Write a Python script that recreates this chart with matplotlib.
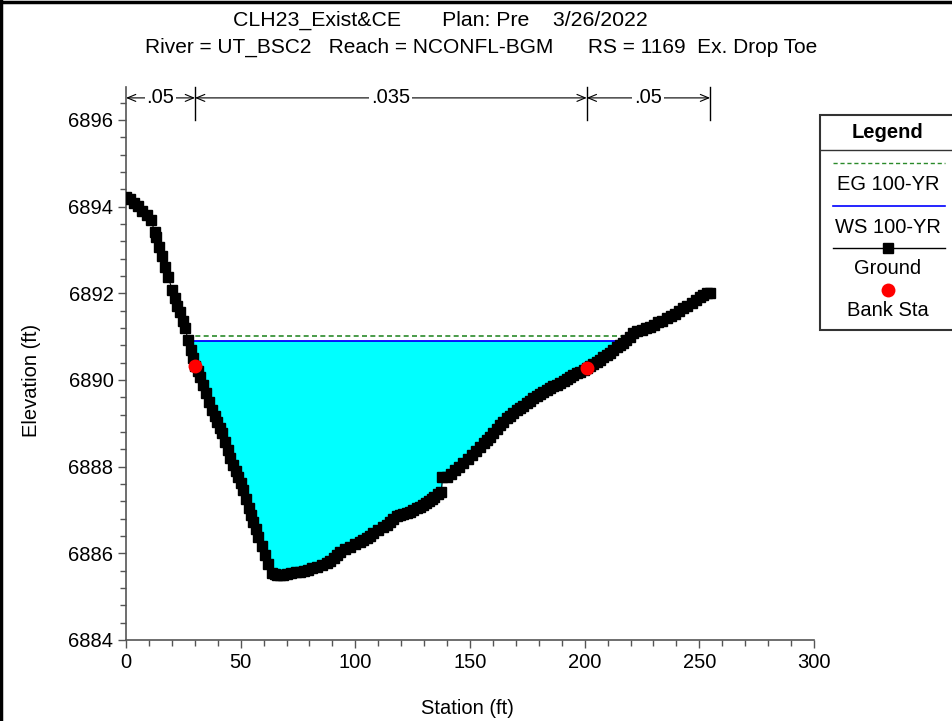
import numpy as np
import matplotlib
matplotlib.use("Agg")
import matplotlib.pyplot as plt
from matplotlib.lines import Line2D
from matplotlib.patches import Rectangle
from matplotlib.ticker import MultipleLocator, FormatStrFormatter

plt.rcParams['font.family'] = ['Liberation Sans', 'DejaVu Sans']

# ground profile (station ft, elevation ft)
station = [0.0, 1.8, 3.5, 5.2, 6.8, 9.0, 10.8, 12.6, 13.1, 14.5, 15.8, 17.1, 18.4, 20.2,
           21.3, 22.4, 23.5, 24.7, 25.7, 27.2, 28.2, 29.3,
           30.1, 31.2, 32.4, 33.6, 34.9, 36.2, 37.6, 38.7, 39.8, 40.8, 41.7, 43.0,
           44.3, 45.5, 46.8, 47.9, 49.0, 50.0, 51.1, 52.3, 53.6, 54.5, 55.5, 56.6,
           57.7, 59.1, 60.6, 62.0, 63.5,
           64.8, 66.0, 67.3, 68.6, 70.3, 72.0, 74.0, 75.9, 77.7, 79.5, 81.3, 83.2,
           85.3, 87.5, 89.0, 90.5, 92.0, 93.3, 95.5, 97.7, 99.8, 102.0, 103.5, 105.0,
           106.4, 107.8, 110.0, 112.2, 113.6, 115.0, 116.5, 118.0, 119.5, 121.0,
           122.4, 123.8, 125.3, 126.8, 128.2, 129.6, 130.8, 132.0, 133.3, 134.5,
           136.0, 137.5, 138.0, 139.8, 141.6, 143.5, 145.3, 147.1, 149.0, 150.8,
           152.6, 154.4, 155.9, 157.3, 158.8, 160.2, 161.7, 163.1, 164.5, 166.0,
           167.5, 168.9, 170.3, 171.8, 173.2, 174.7, 176.1, 177.6, 179.0, 180.5,
           182.0, 183.4, 184.8, 186.3, 187.8, 189.3, 190.8, 192.2, 193.6, 195.1,
           196.5, 198.0, 199.5, 200.9, 202.3, 203.8, 205.2, 206.7, 208.1, 209.6,
           211.0, 212.5, 213.9, 215.3, 216.7, 218.0, 219.6, 221.2, 223.0, 224.8,
           226.6, 228.5, 230.2, 232.0, 233.9, 235.8, 237.6, 239.4, 241.2, 243.0,
           244.8, 246.6, 248.5, 250.3, 251.8, 253.2, 254.7]
elevation = [6894.23, 6894.17, 6894.09, 6894.01, 6893.91, 6893.81, 6893.69, 6893.42,
             6893.31, 6893.08, 6892.85, 6892.61, 6892.37, 6892.08, 6891.90, 6891.71,
             6891.58, 6891.35, 6891.19, 6890.92, 6890.69, 6890.50,
             6890.33, 6890.20, 6890.07, 6889.88, 6889.69, 6889.50, 6889.31, 6889.18,
             6889.04, 6888.90, 6888.77, 6888.57, 6888.38, 6888.21, 6888.04, 6887.90,
             6887.77, 6887.62, 6887.46, 6887.25, 6887.04, 6886.89, 6886.73, 6886.55,
             6886.38, 6886.17, 6885.96, 6885.75, 6885.54,
             6885.52, 6885.50, 6885.50, 6885.50, 6885.52, 6885.54, 6885.56, 6885.58,
             6885.60, 6885.62, 6885.65, 6885.68, 6885.72, 6885.77, 6885.83, 6885.90,
             6885.97, 6886.04, 6886.10, 6886.15, 6886.21, 6886.27, 6886.31, 6886.36,
             6886.41, 6886.46, 6886.54, 6886.61, 6886.66, 6886.72, 6886.79, 6886.85,
             6886.88, 6886.90, 6886.93, 6886.96, 6887.00, 6887.04, 6887.08, 6887.12,
             6887.16, 6887.20, 6887.25, 6887.30, 6887.36, 6887.42, 6887.75, 6887.77,
             6887.84, 6887.92, 6888.00, 6888.08, 6888.17, 6888.27, 6888.36, 6888.46,
             6888.54, 6888.62, 6888.69, 6888.77, 6888.86, 6888.95, 6889.03, 6889.12,
             6889.18, 6889.24, 6889.30, 6889.35, 6889.41, 6889.47, 6889.52, 6889.58,
             6889.63, 6889.68, 6889.73, 6889.77, 6889.81, 6889.85, 6889.89, 6889.92,
             6889.97, 6890.02, 6890.07, 6890.12, 6890.15, 6890.19, 6890.23, 6890.27,
             6890.32, 6890.37, 6890.41, 6890.46, 6890.52, 6890.58, 6890.63, 6890.69,
             6890.75, 6890.80, 6890.86, 6890.92, 6891.00, 6891.08, 6891.12, 6891.15,
             6891.19, 6891.23, 6891.28, 6891.33, 6891.37, 6891.42, 6891.47, 6891.53,
             6891.59, 6891.65, 6891.71, 6891.78, 6891.85, 6891.92, 6891.96, 6892.00,
             6892.00]

bank_sta = [30.1, 200.9]
bank_elev = [6890.33, 6890.27]

ws_100 = 6890.91
eg_100 = 6891.01

# manning's n regions
n_breaks = [0.0, 30.1, 200.9, 254.7]
n_values = [".05", ".035", ".05"]

W, H = 953, 721


def crossings(x, y, level):
    below = y <= level
    i0 = np.argmax(below)
    i1 = len(below) - 1 - np.argmax(below[::-1])
    xl = np.interp(level, [y[i0], y[i0 - 1]], [x[i0], x[i0 - 1]])
    xr = np.interp(level, [y[i1], y[i1 + 1]], [x[i1], x[i1 + 1]])
    return xl, xr


def fx(px):
    return px / W


def fy(py):
    return 1 - py / H


fig = plt.figure(figsize=(W / 100, H / 100), dpi=100)
ax = fig.add_axes([fx(126), fy(640), 688 / W, 552.5 / H])

st = np.array(station)
el = np.array(elevation)
ax.fill_between(st, el, ws_100, where=el <= ws_100, interpolate=True,
                color='#00ffff', linewidth=0, zorder=1)
xl, xr = crossings(st, el, ws_100)
ax.plot([xl, xr], [ws_100, ws_100], color='#0000ff', lw=1.3, zorder=2)
xl, xr = crossings(st, el, eg_100)
ax.plot([xl, xr], [eg_100, eg_100], color='#2a8a2a', lw=1.2, ls=(0, (3, 2)), zorder=2)
ax.plot(st, el, color='black', lw=0.8, marker='s', ms=7, mec='black', mfc='black', zorder=3)
ax.plot(bank_sta, bank_elev, 'o', color='#ff0000', ms=10, mec='none', zorder=4)

ax.set_xlim(0, 300)
ax.set_ylim(6884, 6896.75)
ax.xaxis.set_major_locator(MultipleLocator(50))
ax.xaxis.set_minor_locator(MultipleLocator(10))
ax.yaxis.set_major_locator(MultipleLocator(2))
ax.yaxis.set_minor_locator(MultipleLocator(0.4))
ax.yaxis.set_major_formatter(FormatStrFormatter('%d'))
for s in ['top', 'right']:
    ax.spines[s].set_visible(False)
for s in ['left', 'bottom']:
    ax.spines[s].set_color('#555555')
    ax.spines[s].set_linewidth(1.2)
ax.tick_params(which='major', direction='out', length=6, width=1, color='#555555',
               labelsize=14.5, pad=3)
ax.tick_params(which='minor', direction='out', length=4, width=1, color='#555555')

# manning's n bar along the top
ny = 6896.51
for b in n_breaks[1:]:
    ax.plot([b, b], [6896.0, 6896.75], color='black', lw=1, zorder=5, clip_on=False)
for i, lab in enumerate(n_values):
    a, b = n_breaks[i], n_breaks[i + 1]
    ax.annotate('', xy=(a, ny), xytext=(b, ny),
                arrowprops=dict(arrowstyle='<->,head_length=0.6,head_width=0.25',
                                lw=0.8, color='black', shrinkA=0, shrinkB=0))
    ax.text((a + b) / 2, ny, lab, ha='center', va='center', fontsize=14.5,
            bbox=dict(facecolor='white', edgecolor='none', pad=1.5))

ax.set_xlabel("Station (ft)", fontsize=14.5)
ax.set_ylabel("Elevation (ft)", fontsize=14.5)
ax.xaxis.set_label_coords(fx(467), fy(699), transform=fig.transFigure)
ax.yaxis.set_label_coords(fx(41), fy(380), transform=fig.transFigure)

# titles
fig.text(fx(440), fy(20), "CLH23_Exist&CE       Plan: Pre    3/26/2022",
         ha='center', va='center', fontsize=15.3)
fig.text(fx(481), fy(47),
         "River = UT_BSC2   Reach = NCONFL-BGM      RS = 1169  Ex. Drop Toe",
         ha='center', va='center', fontsize=15)

# legend box
fig.patches.append(Rectangle((fx(820), fy(330)), fx(160), 215 / H, transform=fig.transFigure,
                             facecolor='white', edgecolor='#333333', lw=1.5, clip_on=False))
fig.text(fx(888), fy(133), "Legend", ha='center', va='center', fontsize=14.5, fontweight='bold')
fig.lines.append(Line2D([fx(820), fx(953)], [fy(150), fy(150)], transform=fig.transFigure,
                        color='#333333', lw=1))
fig.lines.append(Line2D([fx(833), fx(945)], [fy(163), fy(163)], transform=fig.transFigure,
                        color='#2a8a2a', lw=1, ls=(0, (3, 2))))
fig.text(fx(888), fy(185), "EG 100-YR", ha='center', va='center', fontsize=14.5)
fig.lines.append(Line2D([fx(833), fx(945)], [fy(205.5), fy(205.5)], transform=fig.transFigure,
                        color='#0000ff', lw=1.2))
fig.text(fx(888), fy(227), "WS 100-YR", ha='center', va='center', fontsize=14.5)
fig.lines.append(Line2D([fx(833), fx(945)], [fy(248), fy(248)], transform=fig.transFigure,
                        color='black', lw=1))
fig.lines.append(Line2D([fx(888)], [fy(248)], transform=fig.transFigure,
                        color='black', marker='s', ms=7))
fig.text(fx(888), fy(268), "Ground", ha='center', va='center', fontsize=14.5)
fig.lines.append(Line2D([fx(888)], [fy(290)], transform=fig.transFigure,
                        color='#ff0000', marker='o', ms=10, mec='none'))
fig.text(fx(888), fy(310), "Bank Sta", ha='center', va='center', fontsize=14.5)

# outer frame
fig.lines.append(Line2D([fx(1.5), fx(1.5)], [0, 1], transform=fig.transFigure, color='black', lw=2.5))
fig.lines.append(Line2D([0, 1], [fy(1.5), fy(1.5)], transform=fig.transFigure, color='black', lw=2.5))

fig.savefig("out.png", dpi=100)
